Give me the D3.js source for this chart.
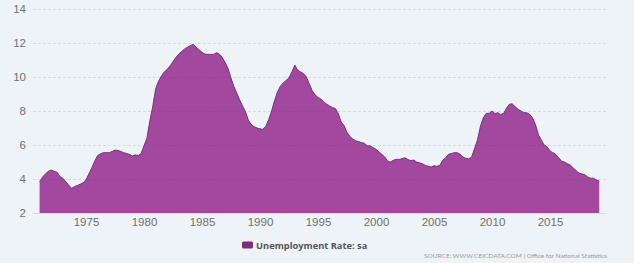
<!DOCTYPE html>
<html>
<head>
<meta charset="utf-8">
<script src="https://cdn.jsdelivr.net/npm/d3@7"></script>
<style>
  html, body { margin: 0; padding: 0; background: #eef3f7; }
  svg { display: block; font-family: Lato, "Open Sans", sans-serif; }
</style>
</head>
<body>
<svg id="chart" width="634" height="263"></svg>
<script>
// ---- data (quarterly: Jan, Apr, Jul, Oct) ----
const startYear = 1971;
const rate = [
  3.84, 4.10, 4.30, 4.45,   // 1971
  4.53, 4.45, 4.40, 4.15,   // 1972
  4.05, 3.85, 3.65, 3.45,   // 1973
  3.55, 3.62, 3.69, 3.78,   // 1974
  3.95, 4.30, 4.65, 5.05,   // 1975
  5.38, 5.48, 5.55, 5.55,   // 1976
  5.55, 5.62, 5.70, 5.68,   // 1977
  5.62, 5.55, 5.50, 5.45,   // 1978
  5.35, 5.42, 5.38, 5.50,   // 1979
  5.95, 6.40, 7.40, 8.25,   // 1980
  9.30, 9.75, 10.05, 10.30, // 1981
  10.45, 10.65, 10.90, 11.15, // 1982
  11.35, 11.50, 11.65, 11.75, // 1983
  11.85, 11.92, 11.75, 11.60, // 1984
  11.45, 11.35, 11.33, 11.33, // 1985
  11.33, 11.43, 11.35, 11.15, // 1986
  10.85, 10.50, 9.95, 9.45,   // 1987
  9.05, 8.65, 8.30, 7.95,     // 1988
  7.45, 7.20, 7.08, 7.00,     // 1989
  6.95, 6.92, 7.10, 7.50,     // 1990
  8.00, 8.60, 9.10, 9.45,     // 1991
  9.65, 9.80, 9.95, 10.30,    // 1992
  10.70, 10.40, 10.30, 10.20, // 1993
  10.00, 9.60, 9.20, 8.95,    // 1994
  8.80, 8.70, 8.55, 8.40,     // 1995
  8.30, 8.20, 8.15, 7.85,     // 1996
  7.35, 7.15, 6.75, 6.50,     // 1997
  6.35, 6.25, 6.20, 6.14,     // 1998
  6.10, 5.95, 5.95, 5.85,     // 1999
  5.75, 5.60, 5.45, 5.30,     // 2000
  5.05, 5.00, 5.10, 5.16,     // 2001
  5.15, 5.20, 5.25, 5.15,     // 2002
  5.08, 5.12, 5.00, 4.95,     // 2003
  4.90, 4.80, 4.75, 4.70,     // 2004
  4.78, 4.75, 4.80, 5.10,     // 2005
  5.25, 5.45, 5.50, 5.55,     // 2006
  5.55, 5.45, 5.30, 5.22,     // 2007
  5.18, 5.30, 5.80, 6.30,     // 2008
  7.10, 7.60, 7.86, 7.86,     // 2009
  8.00, 7.85, 7.90, 7.80,     // 2010
  7.85, 8.16, 8.40, 8.42,     // 2011
  8.25, 8.10, 8.00, 7.90,     // 2012
  7.90, 7.80, 7.60, 7.20,     // 2013
  6.60, 6.30, 6.00, 5.90,     // 2014
  5.65, 5.55, 5.45, 5.25,     // 2015
  5.05, 5.00, 4.90, 4.82,     // 2016
  4.65, 4.50, 4.35, 4.30,     // 2017
  4.25, 4.12, 4.05, 4.05,     // 2018
  3.95, 3.88                  // 2019
];
const yTicks = [2, 4, 6, 8, 10, 12, 14];
const xTickYears = [1975, 1980, 1985, 1990, 1995, 2000, 2005, 2010, 2015];
const seriesName = "Unemployment Rate: sa";
const sourceText = "SOURCE: WWW.CEICDATA.COM | Office for National Statistics";

// ---- build records ----
const data = rate.map((v, i) => ({
  date: new Date(startYear + Math.floor(i / 4), (i % 4) * 3, 1),
  value: v
}));

const svg = d3.select("#chart");

const x = d3.scaleTime()
  .domain([new Date(1975, 0, 1), new Date(2015, 0, 1)])
  .range([86, 550]);
const y = d3.scaleLinear().domain([2, 14]).range([213, 9]);

const gridX0 = 33, gridX1 = 607;

// area
const area = d3.area()
  .x(d => x(d.date))
  .y0(y(2))
  .y1(d => y(d.value));
const line = d3.line()
  .x(d => x(d.date))
  .y(d => y(d.value));

svg.append("path")
  .datum(data)
  .attr("d", area)
  .attr("fill", "#a2489f");

svg.append("path")
  .datum(data)
  .attr("d", line)
  .attr("fill", "none")
  .attr("stroke", "#6a2a6b")
  .attr("stroke-width", 0.9);

// gridlines on top
const yAxis = d3.axisLeft(y)
  .tickValues(yTicks)
  .tickSize(-(gridX1 - gridX0))
  .tickPadding(8)
  .tickFormat(d3.format("d"));

const gy = svg.append("g")
  .attr("transform", `translate(${gridX0},0)`)
  .call(yAxis);
gy.select(".domain").remove();
gy.selectAll(".tick line")
  .attr("stroke", "rgba(70,70,100,0.14)")
  .attr("stroke-dasharray", d => d === 2 ? null : "3,2");
gy.selectAll(".tick text")
  .attr("fill", "#707070")
  .attr("font-size", 11.5)
  .attr("x", -7);

// x axis
const xAxis = d3.axisBottom(x)
  .tickValues(xTickYears.map(yr => new Date(yr, 0, 1)))
  .tickSize(0)
  .tickPadding(5)
  .tickFormat(d3.timeFormat("%Y"));
const gx = svg.append("g")
  .attr("transform", `translate(0,${y(2)})`)
  .call(xAxis);
gx.select(".domain").remove();
gx.selectAll(".tick text")
  .attr("fill", "#707070")
  .attr("font-size", 11.5);

// legend
const lg = svg.append("g");
lg.append("rect")
  .attr("x", 242).attr("y", 241.5)
  .attr("width", 11).attr("height", 7)
  .attr("rx", 1.5)
  .attr("fill", "#7e2c84");
lg.append("text")
  .attr("x", 256).attr("y", 248.5)
  .attr("font-family", "'Open Sans', sans-serif")
  .attr("font-size", 9.3)
  .attr("font-weight", "bold")
  .attr("fill", "#555")
  .text(seriesName);

// source
svg.append("text")
  .attr("x", 607).attr("y", 258)
  .attr("text-anchor", "end")
  .attr("font-size", 6.5)
  .attr("fill", "#999")
  .text(sourceText);
</script>
</body>
</html>
